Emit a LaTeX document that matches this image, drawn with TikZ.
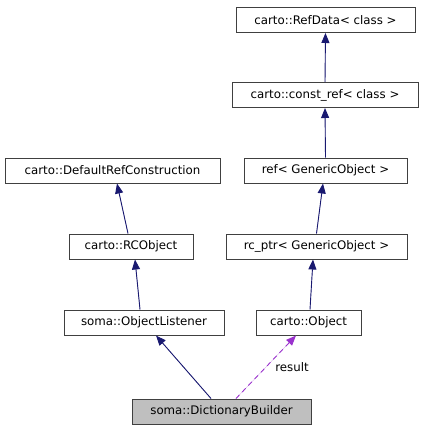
\documentclass[tikz,border=0pt]{standalone}
\usepackage{fontspec}
\setmainfont{DejaVu Sans}
\usetikzlibrary{arrows.meta}
\definecolor{edgeblue}{HTML}{191970}
\definecolor{usepurple}{HTML}{9A32CD}
\definecolor{boxline}{HTML}{404040}
\definecolor{curfill}{HTML}{BFBFBF}

\begin{document}
\begin{tikzpicture}[x=1pt,y=-1pt,
    cls/.style={draw=boxline, fill=white, line width=1pt, minimum height=25pt, inner sep=0pt, font=\fontsize{11.8}{13}\selectfont},
    inh/.style={-{Triangle[length=10pt,width=8pt]}, draw=edgeblue, fill=edgeblue, line width=0.9pt},
    usage/.style={-{Triangle[length=10pt,width=8pt]}, draw=usepurple, fill=usepurple, line width=0.9pt, dash pattern=on 5pt off 4pt}]
    \useasboundingbox (0,0) rectangle (425,431);
    % top chain
    \node[cls, minimum width=179pt] (refdata) at (325.5,20) {carto::RefData< class >};
    \node[cls, minimum width=186pt] (constref) at (325,95) {carto::const\_ref< class >};
    \node[cls, minimum width=215pt] (defref) at (112.5,170.5) {carto::DefaultRefConstruction};
    \node[cls, minimum width=163pt] (ref) at (325.5,170.5) {ref< GenericObject >};
    \node[cls, minimum width=124pt] (rcobj) at (131,246.5) {carto::RCObject};
    \node[cls, minimum width=181pt] (rcptr) at (316.5,246.5) {rc\_ptr< GenericObject >};
    \node[cls, minimum width=160pt] (listener) at (144,322.5) {soma::ObjectListener};
    \node[cls, minimum width=105pt] (object) at (308.5,322.5) {carto::Object};
    \node[cls, minimum width=179pt, fill=curfill] (dict) at (221.5,411.5) {soma::DictionaryBuilder};

    \draw[inh] (constref.north) -- (refdata.south);
    \draw[inh] (ref.north) -- (constref.south);
    \draw[inh] (rcptr.north) -- ([xshift=-2.5pt]ref.south);
    \draw[inh] ([xshift=1.5pt]object.north) -- ([xshift=-3.5pt]rcptr.south);
    \draw[inh] ([xshift=-3pt]rcobj.north) -- ([xshift=4.5pt]defref.south);
    \draw[inh] ([xshift=-4pt]listener.north) -- ([xshift=4pt]rcobj.south);
    \draw[inh] ([xshift=-10.5pt]dict.north) -- ([xshift=12pt]listener.south);
    \draw[usage] ([xshift=14.5pt]dict.north) -- ([xshift=-12.5pt]object.south);

    \node[font=\fontsize{11.8}{13}\selectfont] (reslabel) at (292,367) {result};
\end{tikzpicture}
\end{document}
